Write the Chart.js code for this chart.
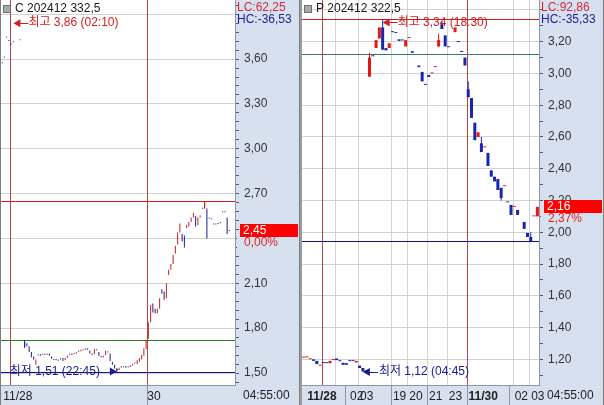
<!DOCTYPE html>
<html lang="ko">
<head>
<meta charset="UTF-8" />
<title>Option candles</title>
<script src="https://cdn.jsdelivr.net/npm/chart.js"></script>
<style>
  * { margin: 0; padding: 0; box-sizing: border-box; }
  body { background: #9c9c9c; width: 604px; height: 405px; overflow: hidden; position: relative; }
  canvas { position: absolute; top: 0; }
  #callChart { left: 0; }
  #putChart { left: 302px; }
</style>
</head>
<body>
<canvas id="callChart" width="300" height="405"></canvas>
<canvas id="putChart" width="302" height="405"></canvas>
<script>
// ---- C 202412 332.5 (left panel), one slot per candle ----
const callOpen = [
  3.575, 3.612, 3.747, 3.722, 3.700, 3.715, null, null, 3.727, null,
  1.71, 1.70, 1.68, 1.64, 1.61, 1.555, 1.62, 1.625, 1.625, 1.62,
  1.625, 1.63, 1.61, 1.59, 1.595, 1.585, 1.59, 1.60, 1.585, 1.60,
  1.625, 1.62, 1.63, 1.63, 1.645, 1.645, 1.655, 1.655, 1.665, 1.65,
  1.63, 1.625, 1.655, 1.64, 1.615, 1.605, 1.62, 1.64, 1.63, 1.575,
  1.555, 1.53, 1.52, 1.535, 1.54, 1.545, 1.54, 1.54, 1.55, 1.565,
  1.56, 1.575, 1.59, 1.615, 1.66, 1.73, 1.84, 1.965, 1.93, 1.90,
  1.93, 2.06, 2.045, 2.00, 2.155, 2.19, 2.23, 2.30, 2.36, 2.44,
  2.43, 2.42, 2.47, 2.48, 2.51, 2.54, 2.55, 2.49, 2.54, 2.60,
  2.60, 2.60, 2.536, 2.53, 2.496, 2.496, 2.498, 2.503, 2.577, 2.577,
  2.54, 2.452, null, null
];
const callClose = [
  3.572, 3.610, 3.745, 3.720, 3.698, 3.713, null, null, 3.725, null,
  1.67, 1.68, 1.64, 1.605, 1.59, 1.59, 1.618, 1.615, 1.623, 1.63,
  1.623, 1.615, 1.595, 1.588, 1.585, 1.583, 1.60, 1.58, 1.60, 1.615,
  1.623, 1.63, 1.628, 1.64, 1.643, 1.655, 1.653, 1.665, 1.655, 1.63,
  1.62, 1.66, 1.653, 1.615, 1.605, 1.615, 1.65, 1.638, 1.58, 1.555,
  1.53, 1.515, 1.535, 1.545, 1.538, 1.535, 1.538, 1.55, 1.56, 1.563,
  1.585, 1.60, 1.62, 1.665, 1.72, 1.84, 1.955, 1.905, 1.90, 1.93,
  2.00, 2.03, 1.99, 2.10, 2.19, 2.23, 2.29, 2.35, 2.44, 2.50,
  2.38, 2.34, 2.49, 2.51, 2.54, 2.57, 2.48, 2.54, 2.555, 2.598,
  2.64, 2.40, 2.534, 2.528, 2.494, 2.494, 2.496, 2.501, 2.575, 2.575,
  2.43, 2.45, null, null
];
const callWickSlot = [10, 51, 90];
const callWickLow = [1.67, 1.51, 2.60];
const callWickHigh = [1.72, 1.53, 2.65];
const callYMajor = [3.90, 3.60, 3.30, 3.00, 2.70, 2.40, 2.10, 1.80, 1.50];
const callXTickSlot = [1, 65];
const callXTickText = ["11/28", "30"];
const callSessionSlot = [4, 65];
const callLevels = [2.65, 1.72, 1.505];

// ---- P 202412 322.5 (right panel) ----
const putOpen = [
  1.21, 1.212, 1.20, 1.20, 1.19, 1.16, 1.178, 1.177, 1.175, 1.195,
  1.205, 1.19, 1.178, 1.175, 1.19, 1.19, 1.18, 1.16, 1.145, 1.13,
  2.98, 3.11, 3.16, 3.22, 3.29, 3.16, 3.16, 3.262, 3.257, 3.215,
  3.21, 3.17, 3.223, 3.14, null, 3.05, 3.01, 2.93, 2.99, 3.00,
  3.04, 3.17, 3.31, 3.24, 3.167, null, 3.26, 3.20, 3.137, 3.10,
  2.90, 2.845, 2.69, 2.60, 2.56, 2.535, 2.50, 2.39, 2.35, 2.335,
  2.28, 2.29, 2.19, 2.172, 2.16, 2.14, null, 2.065, 1.996, 1.97,
  2.10, 2.10
];
const putClose = [
  1.212, 1.214, 1.202, 1.19, 1.17, 1.166, 1.176, 1.175, 1.19, 1.198,
  1.195, 1.188, 1.165, 1.165, 1.188, 1.188, 1.19, 1.145, 1.125, 1.122,
  3.10, 3.108, 3.21, 3.29, 3.15, 3.145, 3.19, 3.26, 3.255, 3.205,
  3.208, 3.21, 3.225, 3.13, null, 3.04, 2.95, 2.928, 2.978, 3.003,
  3.042, 3.21, 3.28, 3.17, 3.165, null, 3.29, 3.198, 3.135, 3.05,
  2.85, 2.72, 2.58, 2.63, 2.505, 2.537, 2.417, 2.35, 2.32, 2.266,
  2.216, 2.292, 2.188, 2.109, 2.162, 2.109, null, 2.021, 1.97, 1.945,
  2.102, 2.16
];
const putWickSlot = [18, 20, 24, 41, 42, 50, 54, 60, 69];
const putWickLow = [1.12, 2.98, 3.15, 3.17, 3.28, 2.85, 2.505, 2.20, 1.945];
const putWickHigh = [1.145, 3.13, 3.34, 3.25, 3.33, 2.95, 2.60, 2.28, 2.00];
const putYMajor = [3.40, 3.20, 3.00, 2.80, 2.60, 2.40, 2.20, 2.00, 1.80, 1.60, 1.40, 1.20];
const putXTickSlot = [1, 14, 17, 27, 32, 38, 44, 50, 64, 69];
const putXTickText = ["11/28", "02", "03", "19", "20", "21", "23", "11/30", "02", "03"];
const putXTickBold = [true, false, false, false, false, false, false, true, false, false];
const putSessionSlot = [6, 50];
const putGridSlot = [10, 17, 27, 32, 38, 44, 64, 69];
const putStripSlot = [13, 27, 38, 50, 63];
const putLevels = [3.34, 3.12, 1.945];

const FONT = '"Liberation Sans", "Noto Sans CJK KR", sans-serif';
const AXIS_BG = "#d6e0ef";
Chart.defaults.font.family = FONT;

function fmt(v) {
  return v.toFixed(2).replace(".", ",");
}

function buildYTicks(majors, parts, min, max) {
  const step = (majors[0] - majors[1]) / parts;
  const out = [];
  for (let v = majors[0] + step; v <= max; v += step) out.push({ value: v, minor: true });
  majors.forEach((m, i) => {
    out.push({ value: m });
    if (i < majors.length - 1) {
      for (let k = 1; k < parts; k++) out.push({ value: m - k * step, minor: true });
    }
  });
  const last = majors[majors.length - 1];
  for (let v = last - step; v >= min; v -= step) out.push({ value: v, minor: true });
  return out.sort((a, b) => a.value - b.value);
}

function arrow(ctx, tipX, yy, dir, color) {
  // dir -1 points left, +1 points right
  ctx.fillStyle = color;
  ctx.strokeStyle = color;
  ctx.lineWidth = 1;
  ctx.beginPath();
  ctx.moveTo(tipX, yy);
  ctx.lineTo(tipX - dir * 7, yy - 4);
  ctx.lineTo(tipX - dir * 7, yy + 4);
  ctx.closePath();
  ctx.fill();
  ctx.beginPath();
  ctx.moveTo(tipX - dir * 6, Math.round(yy) + 0.5);
  ctx.lineTo(tipX - dir * 15, Math.round(yy) + 0.5);
  ctx.stroke();
}

function panelPlugin(c) {
  return {
    id: "panel",
    beforeDraw(chart) {
      const { ctx, chartArea: a, width, height } = chart;
      ctx.save();
      ctx.fillStyle = "#ffffff";
      ctx.fillRect(0, 0, width, height);
      ctx.fillStyle = AXIS_BG;
      ctx.fillRect(a.right, 0, width - a.right, height);
      ctx.fillRect(0, a.bottom, width, height - a.bottom);
      ctx.fillStyle = "#7d7d7d";
      ctx.fillRect(width - 1, 0, 1, height);
      if (a.left > 0) ctx.fillRect(0, 0, a.left, height);
      ctx.restore();
    },
    beforeDatasetsDraw(chart) {
      const { ctx, chartArea: a, scales: { x, y } } = chart;
      ctx.save();
      ctx.lineWidth = 1;
      const vline = (slot, color, y0, y1) => {
        const px = Math.round(x.getPixelForValue(slot - 0.5)) + 0.5;
        ctx.strokeStyle = color;
        ctx.beginPath();
        ctx.moveTo(px, y0);
        ctx.lineTo(px, y1);
        ctx.stroke();
      };
      c.gridSlot.forEach((s) => vline(s, "#d3d3d3", a.top, a.bottom));
      c.sessionSlot.forEach((s) => vline(s, "#b44646", a.top, a.bottom));
      c.stripSlot.forEach((s) => vline(s, "#8c97aa", a.bottom, chart.height));
      c.levels.forEach((v, i) => {
        const py = Math.round(y.getPixelForValue(v)) + 0.5;
        ctx.strokeStyle = c.levelColors[i];
        ctx.beginPath();
        ctx.moveTo(a.left, py);
        ctx.lineTo(a.right, py);
        ctx.stroke();
      });
      ctx.restore();
    },
    afterDraw(chart) {
      const { ctx, chartArea: a, scales: { x, y }, width } = chart;
      ctx.save();
      ctx.font = "12px " + FONT;
      ctx.textBaseline = "middle";
      ctx.textAlign = "left";

      // title
      ctx.fillStyle = "#a9a9a9";
      ctx.fillRect(a.left + 3, 6, 6, 6);
      ctx.strokeStyle = "#6e6e6e";
      ctx.strokeRect(a.left + 2.5, 5.5, 7, 7);
      ctx.fillStyle = "#1a1a1a";
      ctx.fillText(c.title, a.left + 14, 9);

      // LC / HC
      ctx.fillStyle = "#d22a3a";
      ctx.fillText(c.lc, a.right + 2, 8);
      ctx.fillStyle = "#1c2590";
      ctx.fillText(c.hc, a.right + 2, 20);

      // high note
      const hx = x.getPixelForValue(c.hiSlot);
      const hy = y.getPixelForValue(c.hiValue) + 3;
      arrow(ctx, hx, hy, -1, "#d21e1e");
      ctx.fillStyle = "#d21e1e";
      ctx.fillText(c.hiText, hx + 15, hy);

      // low note
      const lx = x.getPixelForValue(c.loSlot);
      const ly = y.getPixelForValue(c.loValue);
      arrow(ctx, lx, ly, c.loDir, "#1a1a96");
      ctx.fillStyle = "#1a1a96";
      if (c.loDir > 0) {
        ctx.textAlign = "right";
        ctx.fillText(c.loText, lx - 17, ly);
        ctx.textAlign = "left";
      } else {
        ctx.fillText(c.loText, lx + 16, ly);
      }

      // last price box
      const py = Math.round(y.getPixelForValue(c.lastPrice));
      ctx.fillStyle = "#ff0000";
      ctx.fillRect(a.right + 5, py - 7, 58, 13);
      ctx.fillStyle = "#ffffff";
      ctx.fillText(fmt(c.lastPrice), a.right + 8, py);
      ctx.fillStyle = AXIS_BG;
      ctx.fillRect(a.right + 2, py + 6, width - a.right - 3, 11);
      ctx.fillStyle = "#e02424";
      ctx.fillText(c.change, a.right + 9, py + 12);

      // clock
      ctx.fillStyle = "#222222";
      ctx.fillText(c.clock, a.right + 8, 396);
      ctx.restore();
    },
  };
}

function makeChart(id, c) {
  const labels = c.open.map((_, i) => String(i));
  const wick = c.open.map(() => null);
  c.wickSlot.forEach((s, k) => {
    wick[s] = [c.wickLow[k], c.wickHigh[k]];
  });
  const body = c.open.map((o, i) => (o === null ? null : [o, c.close[i]]));
  const colorAt = (ctx) => {
    const i = ctx.dataIndex;
    return c.close[i] >= c.open[i] ? c.up : c.down;
  };
  const yTicks = buildYTicks(c.yMajor, c.yParts, c.yMin, c.yMax);
  let last = c.close.length - 1;
  while (c.close[last] === null) last--;
  c.lastPrice = c.close[last];
  const plotH = 385;

  return new Chart(document.getElementById(id), {
    type: "bar",
    data: {
      labels,
      datasets: [
        {
          data: body,
          backgroundColor: colorAt,
          barThickness: c.bodyWidth,
          minBarLength: 1,
          grouped: false,
          borderWidth: 0,
          inflateAmount: 0,
        },
        {
          data: wick,
          backgroundColor: colorAt,
          barThickness: 1,
          grouped: false,
          borderWidth: 0,
          inflateAmount: 0,
        },
      ],
    },
    options: {
      responsive: false,
      animation: false,
      devicePixelRatio: 1,
      events: [],
      layout: { autoPadding: false, padding: { left: c.leftPad, top: 0, right: 0, bottom: 0 } },
      plugins: { legend: { display: false }, tooltip: { enabled: false } },
      scales: {
        x: {
          type: "category",
          offset: true,
          grid: { display: false, drawTicks: false },
          border: { color: "#8c97aa" },
          afterBuildTicks: (s) => {
            s.ticks = c.xTickSlot.map((v) => ({ value: v - 0.5 }));
          },
          afterFit: (s) => {
            s.height = 20;
            s.paddingLeft = 0;
            s.paddingRight = 0;
          },
          ticks: {
            autoSkip: false,
            maxRotation: 0,
            minRotation: 0,
            align: "start",
            padding: 4,
            labelOffset: c.xLabelOffset,
            color: "#222222",
            font: (ctx) => ({ family: FONT, size: 12, weight: c.xTickBold[ctx.index] ? "bold" : "normal" }),
            callback: (v, i) => c.xTickText[i],
          },
        },
        y: {
          position: "right",
          min: c.yMin,
          max: c.yMax,
          afterBuildTicks: (s) => {
            s.ticks = yTicks.map((t) => ({ ...t }));
          },
          afterFit: (s) => {
            s.width = 65;
            s.paddingTop = 0;
            s.paddingBottom = 0;
          },
          grid: {
            color: (ctx) => (ctx.tick && ctx.tick.minor ? "rgba(0,0,0,0)" : "#d2d2d2"),
            tickColor: "#5a5a5a",
            tickLength: 4,
          },
          border: { color: "#8c97aa" },
          ticks: {
            autoSkip: false,
            padding: 5,
            color: "#333333",
            font: { family: FONT, size: 12 },
            callback: (v, i, t) => {
              if (t[i].minor) return "";
              const py = ((c.yMax - v) / (c.yMax - c.yMin)) * plotH;
              return py < 28 ? "" : fmt(v);
            },
          },
        },
      },
    },
    plugins: [panelPlugin(c)],
  });
}

makeChart("callChart", {
  open: callOpen,
  close: callClose,
  wickSlot: callWickSlot,
  wickLow: callWickLow,
  wickHigh: callWickHigh,
  up: "#c81c1c",
  down: "#1a1a8e",
  bodyWidth: 1,
  leftPad: 1,
  yMin: 1.42,
  yMax: 3.995,
  yMajor: callYMajor,
  yParts: 5,
  xTickSlot: callXTickSlot,
  xTickText: callXTickText,
  xTickBold: callXTickSlot.map(() => false),
  xLabelOffset: 0,
  gridSlot: [],
  sessionSlot: callSessionSlot,
  stripSlot: [65],
  levels: callLevels,
  levelColors: ["#c81e1e", "#2f7a2a", "#12128e"],
  title: "C 202412 332,5",
  lc: "LC:62,25",
  hc: "HC:-36,53",
  hiSlot: 5,
  hiValue: 3.86,
  hiText: "최고 3,86 (02:10)",
  loSlot: 51,
  loValue: 1.51,
  loDir: 1,
  loText: "최저 1,51 (22:45)",
  change: "0,00%",
  clock: "04:55:00",
});

makeChart("putChart", {
  open: putOpen,
  close: putClose,
  wickSlot: putWickSlot,
  wickLow: putWickLow,
  wickHigh: putWickHigh,
  up: "#e41616",
  down: "#1626b0",
  bodyWidth: 3,
  leftPad: 0,
  yMin: 1.038,
  yMax: 3.4626,
  yMajor: putYMajor,
  yParts: 2,
  xTickSlot: putXTickSlot,
  xTickText: putXTickText,
  xTickBold: putXTickBold,
  xLabelOffset: 2,
  gridSlot: putGridSlot,
  sessionSlot: putSessionSlot,
  stripSlot: putStripSlot,
  levels: putLevels,
  levelColors: ["#c81e1e", "#2e7d70", "#12128e"],
  title: "P 202412 322,5",
  lc: "LC:92,86",
  hc: "HC:-35,33",
  hiSlot: 24,
  hiValue: 3.34,
  hiText: "최고 3,34 (18:30)",
  loSlot: 18,
  loValue: 1.12,
  loDir: -1,
  loText: "최저 1,12 (04:45)",
  change: "2,37%",
  clock: "04:55:00",
});
</script>
</body>
</html>
